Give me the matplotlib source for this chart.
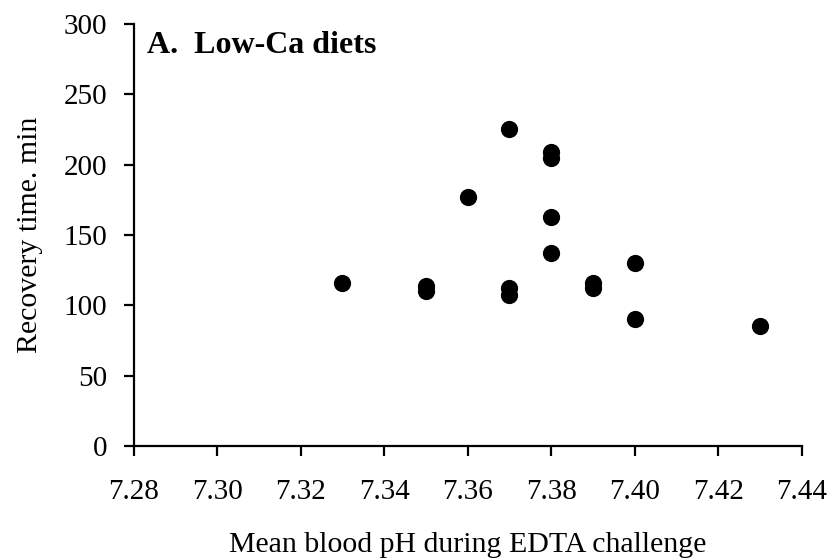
import matplotlib.pyplot as plt

# values
ph = [7.33, 7.35, 7.35, 7.36, 7.37, 7.37, 7.37, 7.38, 7.38, 7.38, 7.38,
      7.39, 7.39, 7.40, 7.40, 7.43]
recovery = [116, 114, 110, 177, 225, 112, 107, 209, 205, 163, 137,
            116, 112, 130, 90, 85]
xticks = [7.28, 7.30, 7.32, 7.34, 7.36, 7.38, 7.40, 7.42, 7.44]
yticks = [0, 50, 100, 150, 200, 250, 300]

plt.rcParams['font.family'] = ['Liberation Serif', 'DejaVu Serif']

fig = plt.figure(figsize=(8.31, 5.58), dpi=100)
ax = fig.add_axes([0.1607, 0.2007, 0.804, 0.7563])

ax.scatter(ph, recovery, s=130, color='black', zorder=3, clip_on=False)

ax.set_xlim(7.28, 7.44)
ax.set_ylim(0, 300)
ax.set_xticks(xticks)
ax.set_xticklabels(['%.2f' % v for v in xticks])
ax.set_yticks(yticks)

for side in ['top', 'right']:
    ax.spines[side].set_visible(False)
for side in ['left', 'bottom']:
    ax.spines[side].set_linewidth(1.6)
ax.tick_params(direction='out', length=7, width=1.6, labelsize=21)
ax.tick_params(axis='y', pad=12)
ax.tick_params(axis='x', pad=17)

ax.set_xlabel('Mean blood pH during EDTA challenge', fontsize=21.5, labelpad=19)
ax.set_ylabel('Recovery time. min', fontsize=21.5, labelpad=15)
ax.text(0.02, 0.95, 'A.  Low-Ca diets', transform=ax.transAxes,
        fontsize=23, fontweight='bold', va='center', ha='left')

fig.savefig('out.png', dpi=100)
